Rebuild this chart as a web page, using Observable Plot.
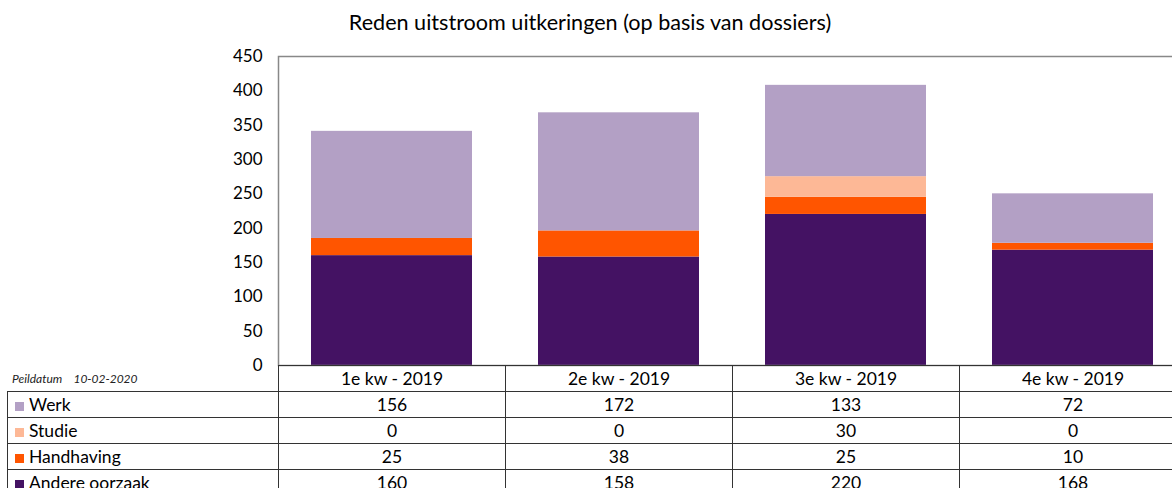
<!DOCTYPE html>
<html><head><meta charset="utf-8">
<script src="https://cdn.jsdelivr.net/npm/d3@7"></script>
<script src="https://cdn.jsdelivr.net/npm/@observablehq/plot@0.6"></script>
<style>
html,body{margin:0;padding:0;background:#fff;overflow:hidden}
body{width:1172px;height:488px;position:relative;font-family:Lato,"Open Sans",sans-serif;color:#000}
#title{position:absolute;left:0;top:9px;width:1180px;text-align:center;font-size:21.6px;line-height:26px}
#chart{position:absolute;left:0;top:40px}
#peil{position:absolute;left:12px;top:371px;font-size:12px;font-style:italic;color:#222;white-space:pre}
#tbl{position:absolute;top:365px;border-collapse:collapse;font-size:17.5px;table-layout:fixed}
#tbl td{padding:0;height:25px;text-align:center;border:1px solid #333;white-space:nowrap;overflow:hidden;line-height:25px}
#tbl td.lab{text-align:left;padding-left:7px}
#tbl td.blank{border-left:none;border-top:none}
.sw{display:inline-block;width:9px;height:9px;margin-right:5px;vertical-align:0px}
</style></head><body>
<div id="title">Reden uitstroom uitkeringen (op basis van dossiers)</div>
<div id="chart"></div>
<div id="peil">Peildatum    10-02-2020</div>
<table id="tbl"></table>
<script>
const quarters = ["1e kw - 2019", "2e kw - 2019", "3e kw - 2019", "4e kw - 2019"];
const series = ["Werk", "Studie", "Handhaving", "Andere oorzaak"];
const werk = [156, 172, 133, 72];
const studie = [0, 0, 30, 0];
const handhaving = [25, 38, 25, 10];
const andere = [160, 158, 220, 168];
const seriesColors = ["#b3a0c5", "#fdb896", "#ff5500", "#441263"];
const yTicks = [0, 50, 100, 150, 200, 250, 300, 350, 400, 450];

const valuesBySeries = {"Werk": werk, "Studie": studie, "Handhaving": handhaving, "Andere oorzaak": andere};
// stacking order bottom -> top
const stackOrder = ["Andere oorzaak", "Handhaving", "Studie", "Werk"];
const data = [];
for (const s of stackOrder) quarters.forEach((q, i) => data.push({quarter: q, series: s, value: valuesBySeries[s][i]}));

const chart = Plot.plot({
  width: 1186, height: 326,
  marginTop: 16, marginBottom: 1, marginLeft: 278, marginRight: 0,
  style: {fontSize: "17px", fontFamily: "Lato, 'Open Sans', sans-serif", color: "#000", overflow: "visible", maxWidth: "none", background: "transparent"},
  x: {domain: quarters, padding: 0, axis: null},
  y: {domain: [0, 450], ticks: yTicks, tickSize: 0, tickPadding: 16, label: null, tickFormat: d => String(d)},
  color: {domain: series, range: seriesColors},
  marks: [
    Plot.barY(data, {x: "quarter", y: "value", fill: "series", insetLeft: 33, insetRight: 33}),
    Plot.frame({stroke: "#888", strokeWidth: 1.5})
  ]
});
document.getElementById("chart").appendChild(chart);

// data table aligned on the plot's x scale
const xs = chart.scale("x");
const bw = xs.bandwidth;
const firstX = xs.apply(quarters[0]);
const tbl = d3.select("#tbl").style("left", "7px").style("width", (firstX - 7 + bw * quarters.length) + "px");
const cg = tbl.append("colgroup");
cg.append("col").style("width", (firstX - 7) + "px");
quarters.forEach(() => cg.append("col").style("width", bw + "px"));
const hdr = tbl.append("tr");
hdr.append("td").attr("class", "blank").style("border-bottom", "1px solid #333");
quarters.forEach(q => hdr.append("td").text(q));
series.forEach((s, si) => {
  const tr = tbl.append("tr");
  const lab = tr.append("td").attr("class", "lab");
  lab.append("span").attr("class", "sw").style("background", seriesColors[si]);
  lab.append("span").text(s);
  valuesBySeries[s].forEach(v => tr.append("td").text(v));
});
</script>
</body></html>
